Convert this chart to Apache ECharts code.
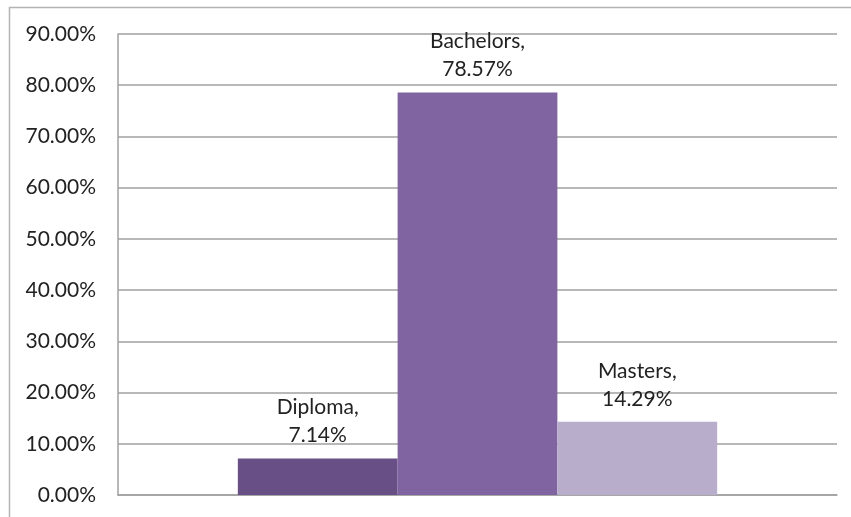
<!DOCTYPE html>
<html>
<head>
<meta charset="utf-8">
<script src="https://cdn.jsdelivr.net/npm/echarts@6/dist/echarts.min.js"></script>
<style>
  html, body { margin: 0; padding: 0; background: #ffffff; }
  #chart { width: 851px; height: 517px; }
</style>
</head>
<body>
<div id="chart"></div>
<script>
// Qualification levels and their share of respondents (%)
const categories = [''];
const seriesNames = ['Diploma', 'Bachelors', 'Masters'];
const seriesValues = [[7.14], [78.57], [14.29]];
const seriesColors = ['#684f86', '#8064a2', '#b8aecb'];
const yTicks = { min: 0, max: 90, interval: 10 };

const chart = echarts.init(document.getElementById('chart'));
const fontFamily = 'Lato, "Open Sans", sans-serif';

chart.setOption({
  animation: false,
  backgroundColor: '#ffffff',
  graphic: [{
    type: 'rect',
    shape: { x: 9.5, y: 7.5, width: 900, height: 600 },
    style: { fill: 'none', stroke: '#b4b4b4', lineWidth: 1.5 },
    silent: true
  }],
  grid: { left: 118, right: 14, top: 34, bottom: 22, containLabel: false },
  xAxis: {
    type: 'category',
    data: categories,
    axisLine: { lineStyle: { color: '#a0a0a0', width: 1.5 } },
    axisTick: { show: false },
    axisLabel: { show: false }
  },
  yAxis: {
    type: 'value',
    min: yTicks.min,
    max: yTicks.max,
    interval: yTicks.interval,
    axisLine: { show: true, lineStyle: { color: '#a0a0a0', width: 1.5 } },
    axisTick: { show: false },
    splitLine: { lineStyle: { color: '#a0a0a0', width: 1.5 } },
    axisLabel: {
      color: '#222222',
      fontFamily: fontFamily,
      fontSize: 21,
      margin: 22,
      formatter: v => v.toFixed(2) + '%'
    }
  },
  series: seriesNames.map((name, i) => ({
    name: name,
    type: 'bar',
    data: seriesValues[i],
    barGap: '0%',
    barCategoryGap: '33.33%',
    itemStyle: { color: seriesColors[i] },
    label: {
      show: true,
      position: 'top',
      distance: 9,
      color: '#222222',
      fontFamily: fontFamily,
      fontSize: 21,
      lineHeight: 28,
      align: 'center',
      formatter: p => p.seriesName + ',\n' + p.value.toFixed(2) + '%'
    }
  }))
});
</script>
</body>
</html>
